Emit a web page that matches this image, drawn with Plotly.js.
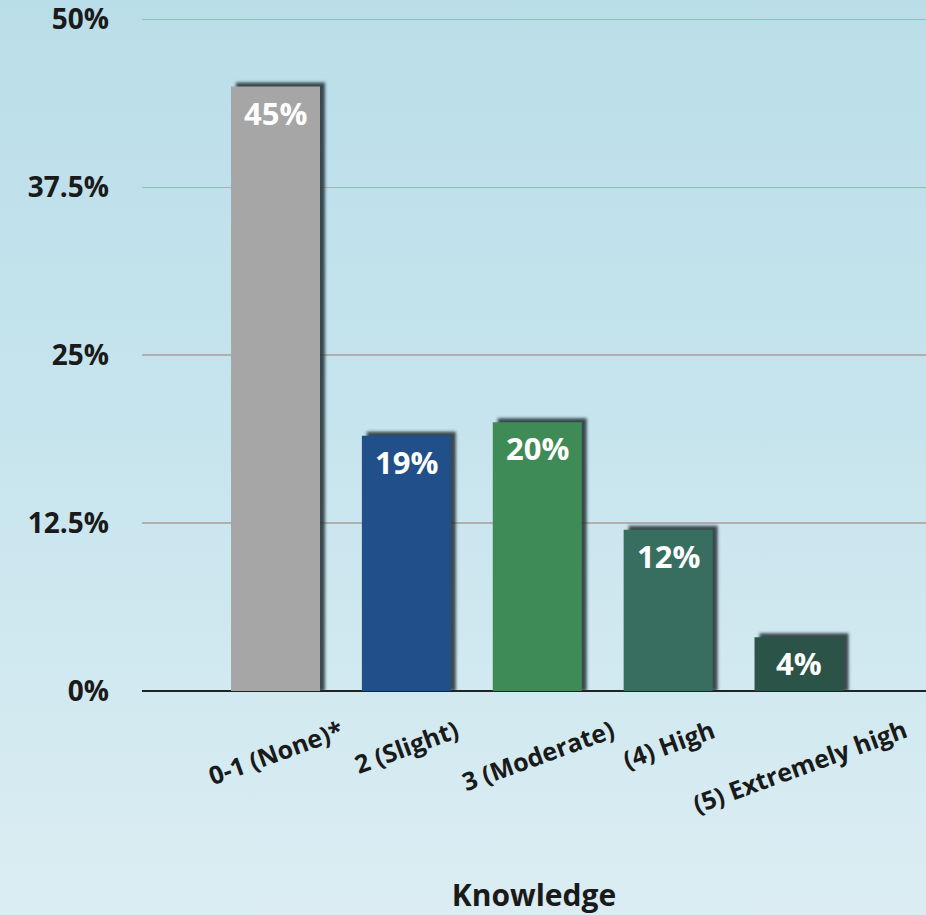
<!DOCTYPE html>
<html>
<head>
<meta charset="utf-8">
<script src="https://cdn.plot.ly/plotly-3.0.1.min.js"></script>
<style>
  html, body { margin: 0; padding: 0; }
  #chart { width: 926px; height: 915px; background: linear-gradient(180deg, #badee9 0%, #c6e4ed 45%, #dbedf3 100%); }
</style>
</head>
<body>
<div id="chart"></div>
<script>
// ---- data ----
const categories = ["0-1 (None)*", "2 (Slight)", "3 (Moderate)", "(4) High", "(5) Extremely high"];
const values = [45, 19, 20, 12, 4];
const barLabels = ["45%", "19%", "20%", "12%", "4%"];
const barColors = ["#a6a6a6", "#204f8a", "#3f8b56", "#386e60", "#2b5347"];
const yTickVals = [0, 12.5, 25, 37.5, 50];
const yTickText = ["0%", "12.5%", "25%", "37.5%", "50%"];
const xTitle = "Knowledge";

const FONT = "Open Sans, Lato, sans-serif";
const idx = categories.map((c, i) => i);

const shadow = {
  type: "bar",
  x: idx,
  y: values.map(v => v + 0.3),
  width: 0.68,
  offset: -0.34 + 0.038,
  marker: { color: "rgba(30,45,50,0.85)", line: { width: 0 } },
  hoverinfo: "skip",
  showlegend: false
};
const bars = {
  type: "bar",
  x: idx,
  y: values,
  width: 0.68,
  marker: { color: barColors, line: { width: 0 } },
  showlegend: false
};

const annotations = [];
idx.forEach(i => {
  annotations.push({
    x: i, y: values[i], xref: "x", yref: "y",
    text: barLabels[i], showarrow: false,
    yanchor: "top", yshift: -3,
    font: { family: FONT, size: 31, color: "#ffffff", weight: 700 }
  });
  annotations.push({
    x: i, y: 0, xref: "x", yref: "paper",
    text: categories[i], showarrow: false,
    textangle: -20, yanchor: "top", xanchor: "center", yshift: -18,
    font: { family: FONT, size: 25, color: "#1a1a1a", weight: 700 }
  });
});

const layout = {
  width: 926, height: 915,
  margin: { l: 142, r: 0, t: 6, b: 224 },
  paper_bgcolor: "rgba(0,0,0,0)",
  plot_bgcolor: "rgba(0,0,0,0)",
  barmode: "overlay",
  xaxis: {
    range: [-1.02, 4.97],
    showticklabels: false,
    showgrid: false, zeroline: false,
    showline: false, ticks: "",
    fixedrange: true,
    title: { text: xTitle, standoff: 200, font: { family: FONT, size: 30, color: "#1a1a1a", weight: 700 } },
    automargin: false
  },
  yaxis: {
    range: [0, 51],
    tickvals: yTickVals, ticktext: yTickText,
    showgrid: true, gridcolor: "#b2b0ae", gridwidth: 1.5,
    zeroline: true, zerolinecolor: "#222222", zerolinewidth: 2,
    ticks: "", ticklabelstandoff: 32, ticklabeloverflow: "allow",
    tickfont: { family: FONT, size: 28, color: "#1a1a1a", weight: 700 },
    fixedrange: true, automargin: false
  },
  annotations: annotations,
  font: { family: FONT }
};

Plotly.newPlot("chart", [shadow, bars], layout, { displayModeBar: false, staticPlot: true }).then(gd => {
  const svg = gd.querySelector("svg.main-svg");
  const defs = svg.querySelector("defs");
  const ns = "http://www.w3.org/2000/svg";
  const f = document.createElementNS(ns, "filter");
  f.setAttribute("id", "shadowBlur");
  f.setAttribute("x", "-20%"); f.setAttribute("y", "-20%");
  f.setAttribute("width", "140%"); f.setAttribute("height", "140%");
  const b = document.createElementNS(ns, "feGaussianBlur");
  b.setAttribute("stdDeviation", "1.6");
  f.appendChild(b);
  defs.appendChild(f);
  const traces = gd.querySelectorAll(".barlayer .trace");
  if (traces.length) traces[0].setAttribute("filter", "url(#shadowBlur)");
});
</script>
</body>
</html>
